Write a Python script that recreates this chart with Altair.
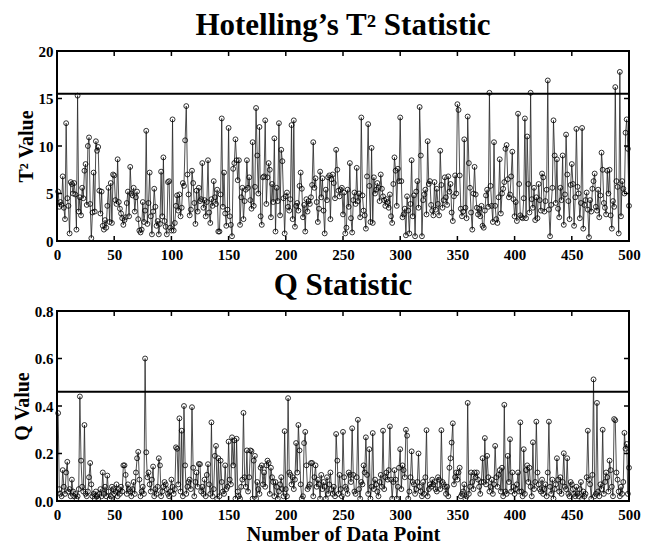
import altair as alt
import pandas as pd

# ---------------- data ----------------
x_ticks = [0, 50, 100, 150, 200, 250, 300, 350, 400, 450, 500]
t2_ticks = [0, 5, 10, 15, 20]
q_ticks = [0, 0.2, 0.4, 0.6, 0.8]
t2_limit = 15.5
q_limit = 0.46

t2_values = [
    5.2, 3.6, 4.1, 3.8, 6.8, 3.5, 2.3, 12.4, 4.5, 3.7, 0.8, 6.2, 6.0, 5.0, 6.1, 4.9, 1.2, 15.3, 3.1, 4.6, 2.7, 5.6, 4.5, 7.4, 8.1,
    3.8, 10.0, 10.9, 3.9, 0.3, 3.0, 7.2, 3.1, 10.5, 9.5, 9.9, 5.3, 2.9, 5.2, 1.6, 1.2, 2.2, 1.4, 3.7, 5.6, 2.0, 6.1, 1.9, 7.0, 6.9,
    4.3, 3.9, 8.6, 4.1, 3.4, 2.9, 2.4, 1.7, 2.2, 2.5, 4.0, 5.2, 2.6, 7.8, 5.0, 4.8, 5.6, 3.1, 4.6, 5.2, 2.3, 1.1, 0.9, 1.2, 4.1,
    2.0, 3.2, 11.6, 1.8, 4.0, 7.2, 2.6, 0.7, 3.1, 5.5, 3.6, 1.6, 2.1, 0.7, 1.8, 7.3, 2.6, 8.8, 2.1, 1.5, 0.7, 6.2, 6.3, 1.4, 1.1,
    12.8, 1.1, 1.9, 3.7, 4.8, 3.2, 4.9, 2.6, 3.5, 6.1, 5.8, 10.6, 14.2, 7.0, 4.9, 2.7, 3.3, 7.4, 6.1, 4.0, 1.8, 5.3, 3.1, 5.6, 4.2,
    4.4, 8.2, 3.5, 4.3, 2.6, 4.1, 8.5, 3.0, 1.9, 4.4, 3.7, 6.3, 4.6, 3.9, 5.4, 1.0, 1.0, 4.9, 12.9, 3.6, 7.2, 2.9, 1.6, 3.3, 11.9,
    2.6, 1.7, 0.5, 7.6, 8.2, 10.7, 8.5, 6.4, 8.5, 1.7, 4.6, 5.6, 2.3, 4.2, 5.4, 8.5, 5.6, 6.7, 4.3, 3.4, 10.4, 3.7, 5.7, 14.0, 9.0,
    5.0, 12.0, 2.6, 1.7, 6.7, 6.8, 12.7, 3.9, 6.7, 8.2, 7.5, 2.5, 6.0, 4.1, 10.8, 1.0, 5.6, 4.2, 12.4, 2.7, 9.6, 8.4, 4.5, 0.8, 4.7,
    5.1, 3.6, 3.2, 4.4, 12.2, 2.3, 12.7, 1.5, 3.7, 4.0, 3.2, 5.8, 7.2, 5.5, 2.5, 3.8, 1.0, 4.4, 3.1, 4.2, 3.9, 4.6, 5.9, 10.4, 5.6,
    6.6, 4.1, 2.0, 3.4, 7.3, 4.6, 6.6, 3.2, 0.8, 5.4, 4.3, 6.7, 6.9, 2.3, 6.5, 7.0, 6.1, 4.5, 9.6, 7.5, 5.3, 4.7, 5.4, 5.6, 2.8,
    5.1, 0.8, 1.4, 5.4, 3.6, 8.2, 2.4, 0.9, 4.3, 5.1, 3.9, 7.7, 4.2, 5.0, 2.5, 13.0, 4.8, 3.2, 2.7, 1.3, 6.8, 12.3, 5.8, 2.0, 9.8,
    1.9, 6.7, 5.0, 5.4, 6.1, 5.6, 4.2, 7.0, 5.5, 4.7, 4.3, 3.7, 4.4, 4.1, 3.5, 4.9, 2.6, 1.9, 6.0, 8.8, 7.4, 3.7, 7.6, 6.3, 13.0,
    6.3, 2.5, 2.8, 3.4, 0.6, 4.7, 3.2, 0.8, 3.9, 8.5, 2.6, 4.8, 0.5, 5.2, 6.3, 3.5, 14.1, 9.0, 0.5, 4.3, 4.9, 5.4, 2.8, 10.5, 6.0,
    6.3, 3.8, 3.2, 2.7, 6.2, 3.3, 5.5, 3.9, 2.7, 9.5, 5.9, 3.5, 4.3, 6.7, 4.6, 3.8, 6.8, 5.2, 6.0, 3.0, 2.1, 4.7, 6.9, 5.0, 14.4,
    13.8, 6.9, 3.4, 2.6, 3.1, 10.7, 3.5, 2.4, 13.1, 8.2, 5.6, 3.0, 1.2, 5.0, 7.8, 4.9, 3.5, 2.8, 3.4, 2.6, 3.7, 1.6, 1.4, 3.2, 4.8,
    5.4, 3.6, 15.6, 5.8, 3.7, 2.0, 10.4, 3.7, 2.3, 1.9, 4.6, 8.6, 2.9, 5.0, 5.5, 6.2, 9.7, 10.1, 6.5, 4.6, 4.9, 6.8, 9.4, 4.4, 2.6,
    4.1, 2.1, 13.4, 6.0, 2.7, 2.5, 2.4, 4.5, 12.9, 2.4, 11.0, 6.0, 3.0, 15.6, 4.4, 3.5, 5.6, 2.2, 4.6, 2.4, 6.0, 4.3, 3.2, 7.1, 6.7,
    3.1, 4.2, 5.4, 16.9, 3.3, 0.5, 3.8, 5.6, 12.7, 9.0, 4.0, 8.6, 3.4, 2.5, 5.6, 4.3, 9.0, 1.7, 4.9, 11.2, 7.0, 4.2, 2.3, 5.9, 8.1,
    6.0, 1.6, 4.6, 11.8, 5.7, 5.0, 2.4, 4.0, 11.9, 1.3, 3.8, 4.3, 5.1, 3.3, 0.4, 4.3, 3.1, 5.5, 6.3, 7.1, 3.6, 3.2, 5.4, 2.5, 4.8,
    9.3, 7.5, 4.0, 3.5, 2.8, 7.4, 5.0, 7.5, 2.7, 1.3, 4.2, 3.6, 16.2, 6.3, 5.7, 0.8, 17.8, 2.6, 6.3, 5.5, 5.0, 11.4, 12.8, 9.7, 3.7,
]

q_values = [
    0.37, 0.05, 0.03, 0.02, 0.13, 0.06, 0.03, 0.12, 0.165, 0.04, 0.05, 0.02, 0.09, 0.04, 0.02, 0.03, 0.01, 0.02, 0.05, 0.44, 0.17, 0.06, 0.04, 0.32, 0.03,
    0.02, 0.04, 0.10, 0.16, 0.07, 0.02, 0.03, 0.01, 0.04, 0.02, 0.01, 0.03, 0.05, 0.02, 0.12, 0.03, 0.06, 0.02, 0.107, 0.04, 0.01, 0.02, 0.06, 0.05, 0.03,
    0.04, 0.07, 0.02, 0.05, 0.03, 0.06, 0.04, 0.15, 0.15, 0.11, 0.03, 0.07, 0.05, 0.04, 0.02, 0.05, 0.08, 0.03, 0.12, 0.18, 0.207, 0.09, 0.02, 0.04, 0.06,
    0.03, 0.60, 0.205, 0.10, 0.12, 0.07, 0.04, 0.09, 0.145, 0.02, 0.05, 0.03, 0.06, 0.18, 0.15, 0.02, 0.04, 0.06, 0.08, 0.07, 0.05, 0.03, 0.02, 0.04, 0.09,
    0.06, 0.03, 0.05, 0.226, 0.22, 0.07, 0.348, 0.04, 0.296, 0.02, 0.40, 0.15, 0.03, 0.06, 0.08, 0.09, 0.05, 0.395, 0.14, 0.02, 0.08, 0.12, 0.06, 0.156, 0.155,
    0.04, 0.06, 0.03, 0.09, 0.02, 0.11, 0.155, 0.07, 0.03, 0.331, 0.02, 0.05, 0.19, 0.232, 0.01, 0.18, 0.02, 0.17, 0.08, 0.04, 0.03, 0.15, 0.05, 0.06, 0.25,
    0.09, 0.07, 0.268, 0.15, 0.255, 0.01, 0.262, 0.04, 0.02, 0.01, 0.06, 0.09, 0.371, 0.10, 0.06, 0.213, 0.04, 0.10, 0.213, 0.21, 0.01, 0.17, 0.19, 0.01, 0.08,
    0.05, 0.03, 0.14, 0.15, 0.07, 0.12, 0.06, 0.15, 0.17, 0.16, 0.03, 0.14, 0.10, 0.08, 0.02, 0.08, 0.06, 0.01, 0.04, 0.07, 0.10, 0.05, 0.02, 0.294, 0.05,
    0.02, 0.433, 0.12, 0.11, 0.07, 0.10, 0.05, 0.09, 0.244, 0.12, 0.32, 0.213, 0.07, 0.01, 0.02, 0.244, 0.291, 0.15, 0.05, 0.06, 0.07, 0.16, 0.16, 0.02, 0.10,
    0.15, 0.06, 0.09, 0.07, 0.01, 0.11, 0.05, 0.08, 0.06, 0.01, 0.10, 0.03, 0.07, 0.12, 0.05, 0.03, 0.06, 0.02, 0.282, 0.17, 0.03, 0.11, 0.05, 0.02, 0.291,
    0.10, 0.06, 0.05, 0.03, 0.12, 0.11, 0.08, 0.306, 0.11, 0.04, 0.03, 0.10, 0.342, 0.05, 0.01, 0.08, 0.07, 0.15, 0.12, 0.268, 0.11, 0.03, 0.218, 0.01, 0.06,
    0.286, 0.05, 0.09, 0.07, 0.04, 0.02, 0.08, 0.11, 0.06, 0.296, 0.05, 0.10, 0.12, 0.09, 0.13, 0.314, 0.09, 0.01, 0.08, 0.13, 0.09, 0.01, 0.06, 0.14, 0.218,
    0.05, 0.15, 0.13, 0.10, 0.30, 0.275, 0.01, 0.04, 0.10, 0.209, 0.08, 0.07, 0.03, 0.05, 0.08, 0.20, 0.06, 0.04, 0.02, 0.08, 0.03, 0.10, 0.298, 0.02, 0.05,
    0.07, 0.06, 0.09, 0.07, 0.08, 0.05, 0.04, 0.10, 0.09, 0.05, 0.298, 0.08, 0.07, 0.06, 0.03, 0.06, 0.02, 0.14, 0.18, 0.246, 0.327, 0.07, 0.10, 0.12, 0.09,
    0.12, 0.14, 0.02, 0.03, 0.04, 0.07, 0.01, 0.02, 0.413, 0.03, 0.06, 0.12, 0.08, 0.05, 0.12, 0.10, 0.12, 0.09, 0.06, 0.03, 0.08, 0.18, 0.08, 0.265, 0.07,
    0.19, 0.10, 0.04, 0.06, 0.09, 0.03, 0.07, 0.232, 0.10, 0.06, 0.11, 0.13, 0.04, 0.14, 0.02, 0.405, 0.04, 0.03, 0.19, 0.08, 0.26, 0.04, 0.12, 0.06, 0.03,
    0.05, 0.07, 0.12, 0.04, 0.331, 0.04, 0.02, 0.218, 0.03, 0.13, 0.15, 0.08, 0.14, 0.06, 0.02, 0.247, 0.05, 0.08, 0.334, 0.12, 0.07, 0.05, 0.04, 0.09, 0.03,
    0.05, 0.07, 0.02, 0.12, 0.334, 0.06, 0.03, 0.09, 0.01, 0.05, 0.07, 0.18, 0.09, 0.04, 0.10, 0.03, 0.08, 0.201, 0.06, 0.05, 0.18, 0.03, 0.02, 0.08, 0.07,
    0.05, 0.03, 0.02, 0.06, 0.03, 0.02, 0.05, 0.08, 0.01, 0.04, 0.02, 0.03, 0.10, 0.296, 0.09, 0.07, 0.01, 0.11, 0.512, 0.02, 0.03, 0.413, 0.04, 0.02, 0.07,
    0.05, 0.30, 0.03, 0.08, 0.12, 0.10, 0.04, 0.17, 0.13, 0.06, 0.02, 0.345, 0.34, 0.12, 0.09, 0.04, 0.02, 0.06, 0.03, 0.08, 0.287, 0.22, 0.24, 0.03, 0.14,
]

sample_no = list(range(1, len(t2_values) + 1))

# ---------------- styling ----------------
FONT = "Liberation Serif"
W, H = 572, 190
TICK = 5


def panel(values, limit, yticks, ymax, title, ytitle, xtitle=None):
    df = pd.DataFrame({"n": sample_no, "v": values})
    xenc = alt.X(
        "n:Q",
        scale=alt.Scale(domain=[0, 500], nice=False, zero=False),
        axis=alt.Axis(values=x_ticks, title=xtitle, labelFlush=False, labelOverlap=False,
                      labelPadding=6, titlePadding=2, format="d"),
    )
    yenc = alt.Y(
        "v:Q",
        scale=alt.Scale(domain=[0, ymax], nice=False),
        axis=alt.Axis(values=yticks, title=ytitle, labelFlush=False, labelOverlap=False,
                      labelPadding=4, titlePadding=2),
    )
    line = alt.Chart(df).mark_line(color="#222222", strokeWidth=0.8).encode(x=xenc, y=yenc)
    pts = alt.Chart(df).mark_point(shape="circle", filled=False, color="black",
                                   size=24, strokeWidth=0.8, opacity=1).encode(x="n:Q", y="v:Q")
    lim = alt.Chart(pd.DataFrame({"v": [limit]})).mark_rule(color="black", strokeWidth=2).encode(y="v:Q")

    xt = pd.DataFrame({"n": x_ticks})
    yt = pd.DataFrame({"v": yticks})
    tick_b = alt.Chart(xt).mark_rule(color="black", strokeWidth=1.5).encode(
        x="n:Q", y=alt.value(H), y2=alt.value(H - TICK))
    tick_t = alt.Chart(xt).mark_rule(color="black", strokeWidth=1.5).encode(
        x="n:Q", y=alt.value(0), y2=alt.value(TICK))
    tick_l = alt.Chart(yt).mark_rule(color="black", strokeWidth=1.5).encode(
        y="v:Q", x=alt.value(0), x2=alt.value(TICK))
    tick_r = alt.Chart(yt).mark_rule(color="black", strokeWidth=1.5).encode(
        y="v:Q", x=alt.value(W - TICK), x2=alt.value(W))

    return alt.layer(line, pts, lim, tick_b, tick_t, tick_l, tick_r).properties(
        width=W, height=H,
        title=alt.TitleParams(text=title, font=FONT, fontSize=31, fontWeight="bold",
                              anchor="middle", color="black", offset=2),
    )


top = panel(t2_values, t2_limit, t2_ticks, 20, "Hotelling\u2019s T\u00b2 Statistic", "T\u00b2 Value")
bottom = panel(q_values, q_limit, q_ticks, 0.8, "Q Statistic", "Q Value", "Number of Data Point")

chart = alt.vconcat(top, bottom, spacing=6).properties(
    padding={"left": 3, "top": 1, "right": 10, "bottom": 0}
).configure_view(
    stroke="black", strokeWidth=2
).configure_axis(
    grid=False, ticks=False, domain=False,
    labelFont=FONT, labelFontWeight="bold", labelFontSize=15, labelColor="black",
    titleFont=FONT, titleFontWeight="bold", titleFontSize=20, titleColor="black",
).configure_axisX(
    titleFontSize=20.5
)

chart.save("out.html", embed_options={"renderer": "svg", "actions": False})
